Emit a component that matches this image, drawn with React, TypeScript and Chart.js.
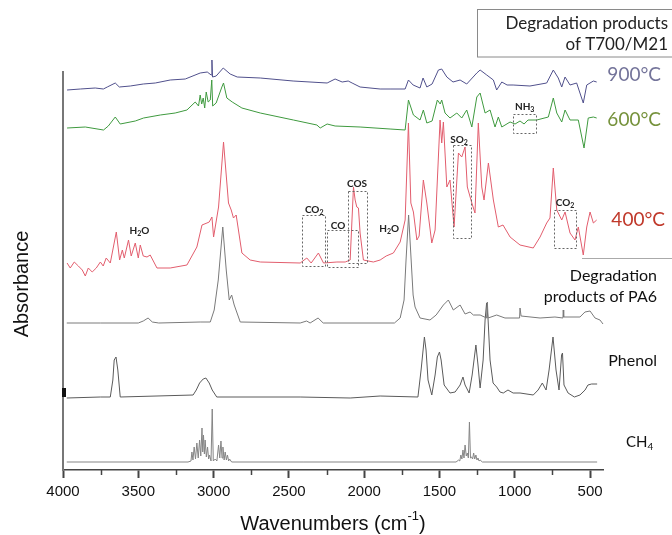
import React, { useEffect, useRef } from "react";
import { Chart, registerables } from "chart.js";

Chart.register(...registerables);

// ---- Data (wavenumber in cm-1, absorbance in arbitrary stacked units) ----
const X_TICKS = [4000, 3500, 3000, 2500, 2000, 1500, 1000, 500];
const X_MINOR = [3750, 3250, 2750, 2250, 1750, 1250, 750];

const WN_900 = [3973,3885,3786,3732,3706,3653,3626,3553,3467,3387,3288,3188,3089,3042,3016,3011,3007,2983,2936,2890,2843,2690,2472,2246,2193,2146,2106,2080,2027,1894,1828,1728,1706,1675,1629,1609,1584,1549,1507,1485,1451,1410,1363,1319,1252,1230,1186,1142,1120,1086,1051,1011,899,788,744,711,688,666,633,589,545,522,478,456];
const AB_900 = [380,381,382,381,383,387,383,384,386,387,390,391,397,398,395,410,393,394,402,396,393,392,389,387,391,388,389,387,383,381,381,381,390,385,382,392,383,386,400,401,393,388,390,386,397,400,395,390,380,388,385,385,384,387,400,392,383,393,385,387,367,385,389,388];

const WN_600 = [3973,3852,3731,3699,3653,3620,3520,3465,3354,3255,3177,3122,3100,3089,3079,3069,3059,3049,3036,3022,3012,3006,2983,2945,2934,2912,2876,2812,2690,2470,2314,2292,2246,2193,2027,1828,1728,1706,1673,1629,1607,1584,1549,1514,1495,1485,1463,1430,1385,1352,1319,1285,1252,1230,1197,1164,1131,1109,1086,1031,998,965,938,912,854,777,744,721,688,666,633,578,540,512,478,456];
const AB_600 = [342,343,340,344,353,346,349,352,355,357,360,368,364,375,366,372,362,378,368,370,390,364,367,383,387,372,368,362,357,350,345,342,346,344,343,341,340,370,355,350,360,347,349,370,366,370,357,352,357,352,360,343,373,377,357,360,343,353,343,348,346,349,346,350,350,353,372,357,348,360,350,350,322,352,353,352];

const WN_400 = [3973,3952,3925,3898,3872,3852,3832,3806,3779,3752,3733,3713,3686,3646,3624,3606,3593,3565,3547,3520,3500,3487,3467,3442,3421,3376,3288,3177,3111,3077,3044,3029,3011,3000,2967,2934,2901,2883,2868,2850,2812,2757,2690,2425,2381,2352,2304,2270,2181,2126,2093,2071,2060,2049,2038,2027,2005,1939,1894,1854,1806,1761,1728,1706,1690,1673,1650,1635,1607,1584,1551,1529,1496,1485,1474,1451,1430,1403,1374,1352,1330,1315,1285,1264,1242,1219,1204,1175,1142,1109,1078,1031,965,877,832,788,766,744,721,688,666,633,600,578,545,522,500,478,456];
const AB_400 = [207,202,208,204,200,194,202,198,202,208,204,212,207,238,210,220,212,230,214,227,212,225,214,213,215,202,202,205,223,245,247,248,253,233,263,328,267,260,252,255,217,210,208,207,212,207,217,207,208,208,210,283,270,263,262,237,210,208,210,214,217,228,250,347,267,258,230,234,290,267,227,240,350,327,348,283,290,243,317,313,323,283,267,257,347,283,270,307,270,243,245,233,225,222,233,247,252,302,260,250,258,237,230,243,215,243,258,247,250];

const WN_PA6 = [3975,3752,3500,3467,3435,3407,3364,3089,3022,2996,2969,2939,2916,2896,2880,2863,2823,2425,2382,2359,2306,2272,1799,1761,1735,1722,1705,1688,1675,1662,1629,1563,1522,1474,1441,1408,1363,1330,1297,1275,1230,1187,1182,1177,1120,1065,968,965,958,832,733,680,678,675,567,534,500,467,434,414];
const AB_PA6 = [147,147,147,149,152,148,147,148,148,160,190,243,200,170,175,165,148,147,149,147,152,147,147,152,170,210,255,210,175,163,152,150,155,165,170,160,165,156,158,155,155,152,168,152,155,152,152,162,154,152,153,152,160,153,153,158,159,152,150,146];

const WN_PHENOL = [3975,3752,3686,3669,3660,3648,3636,3620,3136,3115,3093,3069,3051,3029,3009,2979,2425,2093,1894,1643,1622,1600,1589,1576,1551,1529,1514,1500,1489,1469,1430,1396,1363,1344,1330,1303,1283,1258,1244,1230,1210,1197,1187,1177,1164,1144,1120,1098,1076,1045,1011,965,877,845,817,792,772,746,726,706,689,683,673,646,604,567,533,514,490,453];
const AB_PHENOL = [72,73,73,90,110,113,100,73,75,80,87,91,92,87,80,73,73,72,74,73,100,133,120,90,75,95,113,118,110,85,77,78,85,93,85,77,95,125,105,82,110,150,167,150,110,87,83,78,77,80,77,77,75,80,87,80,100,133,100,80,115,117,85,77,73,75,80,85,86,86];

const WN_CH4 = [3975,3170,3150,3144,3137,3129,3120,3111,3102,3093,3085,3077,3072,3067,3061,3056,3048,3040,3033,3027,3017,3009,3002,2989,2978,2967,2959,2951,2944,2938,2930,2923,2915,2908,2900,2894,2880,2400,1390,1372,1365,1358,1351,1344,1337,1330,1322,1315,1308,1301,1294,1287,1280,1273,1266,1258,1251,1244,1237,1230,1215,453];
const AB_CH4 = [8,8,9,18,10,23,11,27,12,30,14,42,18,35,16,30,13,23,11,15,9,61,9,11,9,25,12,29,12,23,10,18,10,15,9,11,8,8,8,10,9,15,11,20,12,25,14,17,12,48,12,13,11,17,11,15,10,12,9,10,8,8];

// Annotation boxes: [wnFrom, wnTo, absLow, absHigh]
const ANNOT_BOXES = [
  [2414, 2259, 204, 255],
  [2248, 2042, 203, 240],
  [2108, 1982, 207, 279],
  [1412, 1292, 232, 325],
  [1013, 863, 337, 356],
  [740, 594, 222, 260],
];
// Annotation labels: [wn, abs, main, sub, tail]
const ANNOT_LABELS: [number, number, string, string, string][] = [
  [3493, 239, "H", "2", "O"],
  [2332, 260, "CO", "2", ""],
  [2173, 244, "CO", "", ""],
  [2047, 286, "COS", "", ""],
  [1834, 241, "H", "2", "O"],
  [1370, 330, "SO", "2", ""],
  [934, 363, "NH", "3", ""],
  [666, 267, "CO", "2", ""],
];

const TEXT_FONT = "Lato, 'Noto Sans', sans-serif";
const AXIS_FONT = "'Liberation Sans', Arial, sans-serif";

type Seg = [string, number]; // 0 normal, 1 subscript, 2 superscript

function drawSegs(
  ctx: CanvasRenderingContext2D,
  segs: Seg[],
  x: number,
  y: number,
  size: number,
  color: string,
  family: string,
  align: "left" | "center" | "right",
  bold = false
) {
  const b = bold ? "bold " : "";
  const small = Math.round(size * 0.65);
  const fontFor = (m: number) => `${b}${m === 0 ? size : small}px ${family}`;
  let total = 0;
  segs.forEach(([t, m]) => {
    ctx.font = fontFor(m);
    total += ctx.measureText(t).width;
  });
  let cx = align === "left" ? x : align === "center" ? x - total / 2 : x - total;
  ctx.fillStyle = color;
  ctx.textAlign = "left";
  ctx.textBaseline = "middle";
  segs.forEach(([t, m]) => {
    ctx.font = fontFor(m);
    const dy = m === 1 ? size * 0.3 : m === 2 ? -size * 0.38 : 0;
    ctx.fillText(t, cx, y + dy);
    cx += ctx.measureText(t).width;
  });
}

const overlay = {
  id: "overlay",
  afterDraw(chart: any) {
    const ctx: CanvasRenderingContext2D = chart.ctx;
    const xs = chart.scales.x;
    const ys = chart.scales.y;
    const ca = chart.chartArea;
    ctx.save();

    // minor ticks
    ctx.strokeStyle = "#444";
    ctx.lineWidth = 1.5;
    X_MINOR.forEach((v) => {
      const px = Math.round(xs.getPixelForValue(v)) + 0.5;
      ctx.beginPath();
      ctx.moveTo(px, ca.bottom);
      ctx.lineTo(px, ca.bottom + 5);
      ctx.stroke();
    });

    // small mark on y axis
    ctx.fillStyle = "#111";
    ctx.fillRect(ca.left - 1, ys.getPixelForValue(82), 4, ys.getPixelForValue(73) - ys.getPixelForValue(82));

    // annotation boxes
    ctx.strokeStyle = "#666";
    ctx.lineWidth = 1;
    ctx.setLineDash([2, 2]);
    ANNOT_BOXES.forEach(([w1, w2, a1, a2]) => {
      const x1 = xs.getPixelForValue(w1);
      const x2 = xs.getPixelForValue(w2);
      const y1 = ys.getPixelForValue(a2);
      const y2 = ys.getPixelForValue(a1);
      ctx.strokeRect(Math.round(x1) + 0.5, Math.round(y1) + 0.5, Math.round(x2 - x1), Math.round(y2 - y1));
    });
    ctx.setLineDash([]);
    ANNOT_LABELS.forEach(([w, a, main, sub, tail]) => {
      const segs: Seg[] = [[main, 0]];
      if (sub) segs.push([sub, 1]);
      if (tail) segs.push([tail, 0]);
      drawSegs(ctx, segs, xs.getPixelForValue(w), ys.getPixelForValue(a), 10, "#222", TEXT_FONT, "center", true);
    });

    // top-right box
    ctx.strokeStyle = "#8a8a8a";
    ctx.lineWidth = 1;
    ctx.strokeRect(477.5, 9.5, 260, 47.5);
    drawSegs(ctx, [["Degradation products", 0]], 668, 24, 17, "#222", TEXT_FONT, "right");
    drawSegs(ctx, [["of T700/M21", 0]], 668, 45, 17, "#222", TEXT_FONT, "right");

    // gray line under 400°C
    ctx.strokeStyle = "#aaaaaa";
    ctx.lineWidth = 1;
    ctx.beginPath();
    ctx.moveTo(582, 258.5);
    ctx.lineTo(672, 258.5);
    ctx.stroke();

    // series labels
    drawSegs(ctx, [["900°C", 0]], 661, 75, 19, "#74749a", TEXT_FONT, "right");
    drawSegs(ctx, [["600°C", 0]], 661, 120, 19, "#76923c", TEXT_FONT, "right");
    drawSegs(ctx, [["400°C", 0]], 665, 220, 19, "#c0392b", TEXT_FONT, "right");
    drawSegs(ctx, [["Degradation", 0]], 657, 276, 16, "#111", TEXT_FONT, "right");
    drawSegs(ctx, [["products of PA6", 0]], 657, 297, 16, "#111", TEXT_FONT, "right");
    drawSegs(ctx, [["Phenol", 0]], 657, 361, 16, "#111", TEXT_FONT, "right");
    drawSegs(ctx, [["CH", 0], ["4", 1]], 626, 442, 15, "#111", TEXT_FONT, "left");

    // axis titles
    drawSegs(ctx, [["Wavenumbers (cm", 0], ["-1", 2], [")", 0]], (ca.left + ca.right) / 2, 524, 20, "#111", AXIS_FONT, "center");
    ctx.save();
    ctx.translate(22, 284);
    ctx.rotate(-Math.PI / 2);
    drawSegs(ctx, [["Absorbance", 0]], 0, 0, 20, "#111", AXIS_FONT, "center");
    ctx.restore();

    ctx.restore();
  },
};

const mk = (wn: number[], ab: number[]) => wn.map((w, i) => ({ x: w, y: ab[i] }));

export default function App() {
  const ref = useRef<HTMLCanvasElement | null>(null);

  useEffect(() => {
    document.body.style.margin = "0";
    if (!ref.current) return;
    const line = (label: string, wn: number[], ab: number[], color: string) => ({
      label,
      data: mk(wn, ab),
      borderColor: color,
      borderWidth: 1,
      pointRadius: 0,
      tension: 0,
      fill: false,
      clip: false as any,
    });
    const chart = new Chart(ref.current, {
      type: "line",
      data: {
        datasets: [
          line("900°C", WN_900, AB_900, "#50508c"),
          line("600°C", WN_600, AB_600, "#3f9a3f"),
          line("400°C", WN_400, AB_400, "#e25d6d"),
          line("Degradation products of PA6", WN_PA6, AB_PA6, "#7a7a7a"),
          line("Phenol", WN_PHENOL, AB_PHENOL, "#5a5a5a"),
          line("CH4", WN_CH4, AB_CH4, "#858585"),
        ] as any,
      },
      options: {
        animation: false,
        responsive: false,
        maintainAspectRatio: false,
        layout: { padding: { left: 63, right: 69, top: 72, bottom: 0 } },
        plugins: { legend: { display: false }, tooltip: { enabled: false } },
        events: [],
        scales: {
          x: {
            type: "linear",
            reverse: true,
            min: 414,
            max: 4000,
            afterBuildTicks: (s: any) => {
              s.ticks = X_TICKS.map((v) => ({ value: v }));
            },
            afterFit: (s: any) => {
              s.height = 65;
            },
            ticks: {
              autoSkip: false,
              maxRotation: 0,
              padding: 5,
              color: "#111",
              font: { family: AXIS_FONT, size: 15 },
              callback: (v: any) => String(v),
            },
            grid: {
              display: true,
              drawOnChartArea: false,
              drawTicks: true,
              tickLength: 8,
              tickWidth: 2,
              tickColor: "#444",
            },
            border: { display: true, color: "#444", width: 1.5 },
          },
          y: {
            type: "linear",
            min: 0,
            max: 398,
            afterFit: (s: any) => {
              s.width = 0;
            },
            ticks: { display: false },
            grid: { display: false, drawTicks: false },
            border: { display: true, color: "#777", width: 2 },
          },
        },
      },
      plugins: [overlay],
    });
    return () => chart.destroy();
  }, []);

  return (
    <div style={{ width: 672, height: 535, position: "relative", background: "#fff" }}>
      <canvas ref={ref} width={672} height={535} style={{ display: "block" }} />
    </div>
  );
}
